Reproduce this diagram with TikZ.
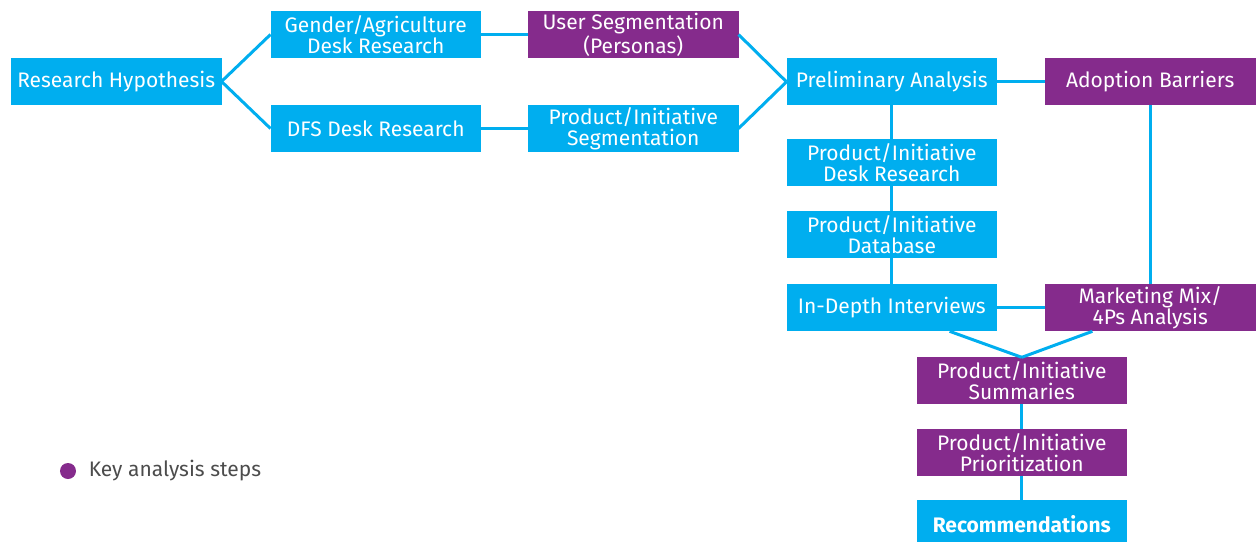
\documentclass[tikz,border=0pt]{standalone}
\usepackage{fontspec}
\setmainfont{Fira Sans}
\usepackage{tikz}
\usetikzlibrary{calc}
\usetikzlibrary{positioning}

\definecolor{dfsblue}{HTML}{00AEEF}
\definecolor{keypurple}{HTML}{852B8C}

\begin{document}
\begin{tikzpicture}[box/.style={fill=dfsblue,text=white,align=center,minimum height=23.5pt,minimum width=105.25pt,inner sep=1pt,outer sep=0pt,font=\fontsize{10.5}{10.5}\selectfont},
	keybox/.style={box,fill=keypurple},
	link/.style={draw=dfsblue,line width=1.5pt},
	node distance=24pt]

	\node[box] (rh) {Research Hypothesis};
	\useasboundingbox ($(rh.north west)+(-5.5pt,29pt)$) rectangle ++(628pt,-270.5pt);

	\node[box,above right=0pt and 24.5pt of rh] (gadr) {Gender/Agriculture\\Desk Research};
	\node[box,below right=0pt and 24.5pt of rh] (dfs) {DFS Desk Research};
	\node[keybox,right=23.5pt of gadr] (useg) {User Segmentation\\(Personas)};
	\node[box,right=23.5pt of dfs] (pseg) {Product/Initiative\\Segmentation};
	\node[box,below right=0pt and 24pt of useg] (pa) {Preliminary Analysis};
	\node[keybox,right=of pa] (ab) {Adoption Barriers};

	\node[box,below=17pt of pa] (pdr) {Product/Initiative\\Desk Research};
	\node[box,below=12.5pt of pdr] (pdb) {Product/Initiative\\Database};
	\node[box,below=13pt of pdb] (idi) {In-Depth Interviews};
	\node[keybox,right=of idi] (mm) {Marketing Mix/\\4Ps Analysis};

	\node[keybox,below=13pt of idi,xshift=65pt] (summ) {Product/Initiative\\Summaries};
	\node[keybox,below=12.5pt of summ] (prio) {Product/Initiative\\Prioritization};
	\node[box,below=12pt of prio,font=\fontsize{10.5}{10.5}\selectfont\bfseries] (rec) {Recommendations};

	% connectors
	\draw[link] (rh.east) -- (gadr.west);
	\draw[link] (rh.east) -- (dfs.west);
	\draw[link] (gadr) -- (useg);
	\draw[link] (dfs) -- (pseg);
	\draw[link] (useg.east) -- (pa.west);
	\draw[link] (pseg.east) -- (pa.west);
	\draw[link] (pa) -- (ab);
	\draw[link] (pa) -- (pdr);
	\draw[link] (pdr) -- (pdb);
	\draw[link] (pdb) -- (idi);
	\draw[link] (ab) -- (mm);
	\draw[link] (idi) -- (mm);
	\draw[link] ($(idi.south)!0.55!(idi.south east)$) -- (summ.north);
	\draw[link] ($(mm.south)!0.55!(mm.south west)$) -- (summ.north);
	\draw[link] (summ) -- (prio);
	\draw[link] (prio) -- (rec);

	% key
	\node[circle,fill=keypurple,inner sep=0pt,minimum size=8pt] (key) at ($(rh.south west)+(28.5pt,-183pt)$) {};
	\node[right=6pt of key,inner sep=0pt,text=black!70,font=\fontsize{10.5}{10.5}\selectfont] (keytxt) {Key analysis steps};

\end{tikzpicture}
\end{document}
